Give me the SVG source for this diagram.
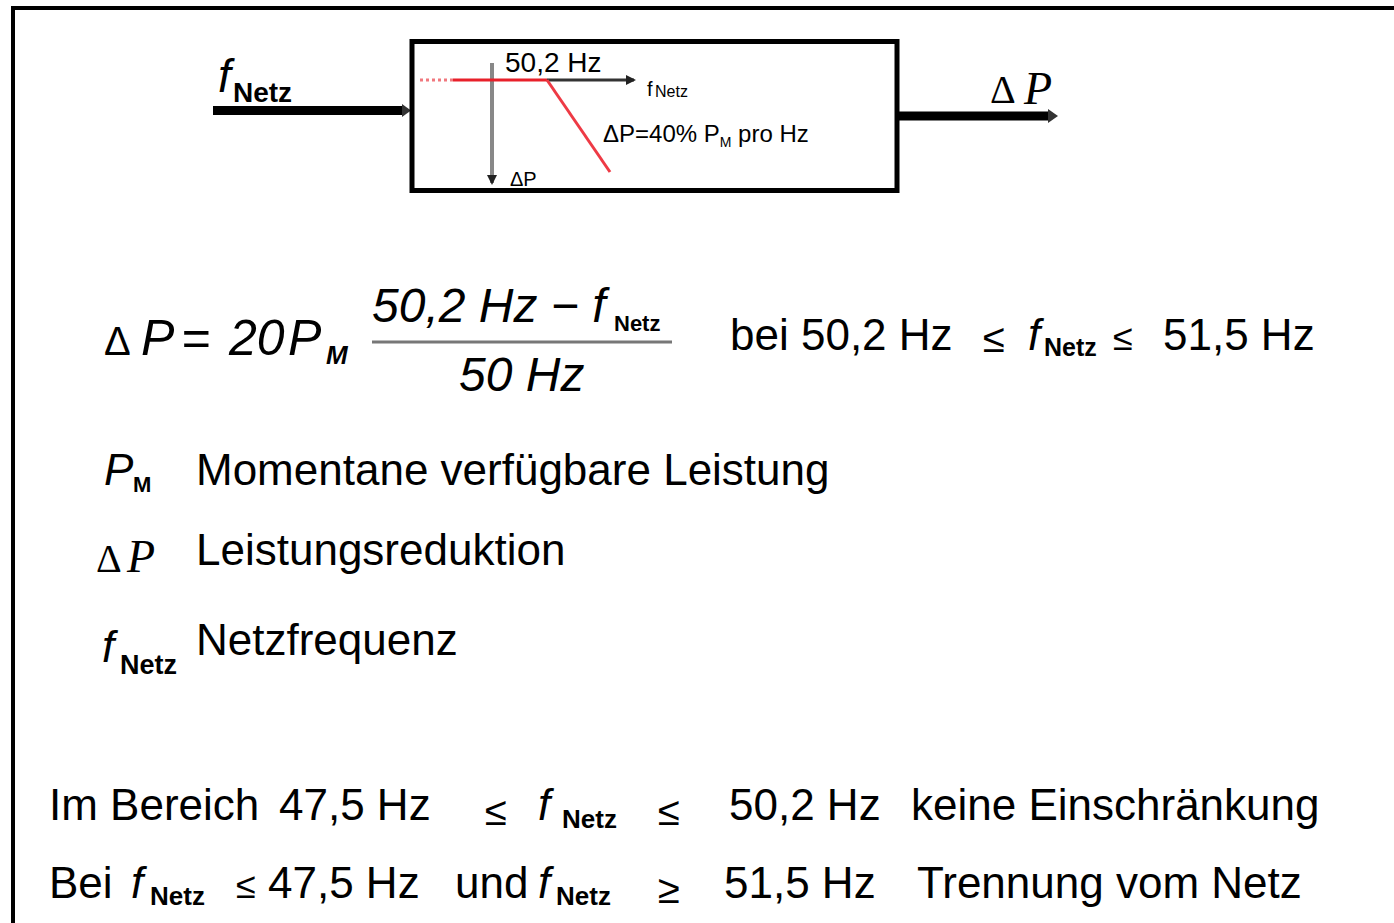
<svg xmlns="http://www.w3.org/2000/svg" width="1394" height="923" viewBox="0 0 1394 923">
<style>
.t{font-family:"Liberation Sans",Arial,sans-serif;fill:#000}
.i{font-style:italic}
.b{font-weight:bold}
.s{font-family:"Liberation Serif","Times New Roman",serif;fill:#000}
</style>
<defs>
<marker id="ahs" markerWidth="10" markerHeight="12" refX="8" refY="6" orient="auto" markerUnits="userSpaceOnUse"><path d="M0,0 L10,6 L0,12 z" fill="#000"/></marker>
<marker id="ahg" markerWidth="10" markerHeight="10" refX="8" refY="5" orient="auto" markerUnits="userSpaceOnUse"><path d="M0,0 L10,5 L0,10 z" fill="#222"/></marker>
</defs>
<rect width="1394" height="923" fill="#fff"/>
<g id="frame" fill="#000">
<rect x="11" y="6" width="4" height="917"/>
<rect x="11" y="6" width="1383" height="4"/>
</g>
<g id="connectors">
<line x1="213" y1="110.5" x2="404" y2="110.5" stroke="#000" stroke-width="9"/>
<path d="M402,104 L411,110.5 L402,117 z" fill="#333"/>
<line x1="899" y1="116" x2="1050" y2="116" stroke="#000" stroke-width="9"/>
<path d="M1048,109 L1058,116 L1048,123 z" fill="#333"/>
</g>
<g id="input-label">
<text class="t i" x="218" y="92" font-size="46">f</text>
<text class="t b" x="233" y="102" font-size="28">Netz</text>
</g>
<g id="output-label">
<text class="s" x="990" y="103" font-size="40">Δ</text>
<text class="s i" x="1024" y="104" font-size="46">P</text>
</g>
<g id="block">
<rect x="412" y="41.5" width="485" height="149" fill="#fff" stroke="#000" stroke-width="5"/>
<line x1="492" y1="63" x2="492" y2="183" stroke="#888" stroke-width="4" marker-end="url(#ahg)"/>
<line x1="420" y1="80" x2="453" y2="80" stroke="#e8202a" stroke-width="3" stroke-dasharray="3,3" opacity="0.6"/>
<line x1="453" y1="80" x2="547" y2="80" stroke="#e8202a" stroke-width="3"/>
<line x1="547" y1="80" x2="634" y2="80" stroke="#333" stroke-width="3" marker-end="url(#ahg)"/>
<line x1="547" y1="80" x2="610" y2="172" stroke="#ee3a45" stroke-width="3"/>
<text class="t" x="505" y="72" font-size="28">50,2 Hz</text>
<text class="t" x="647" y="96" font-size="20">f</text>
<text class="t" x="655" y="97" font-size="16">Netz</text>
<text class="t" x="510" y="186" font-size="20">ΔP</text>
<text class="t" x="603" y="142" font-size="24">ΔP=40% P<tspan font-size="14" dy="5">M</tspan><tspan dy="-5"> pro Hz</tspan></text>
</g>
<g id="formula">
<text class="t" x="104" y="355" font-size="40">Δ</text>
<text class="t i" x="141" y="355" font-size="50">P</text>
<text class="t i" x="181" y="355" font-size="50">=</text>
<text class="t i" x="229" y="355" font-size="50">20</text>
<text class="t i" x="288" y="355" font-size="50">P</text>
<text class="t i b" x="326" y="364" font-size="26">M</text>
<text class="t i" x="372" y="322" font-size="48">50,2 Hz − f</text>
<text class="t b" x="614" y="331" font-size="22">Netz</text>
<line x1="372" y1="342" x2="672" y2="342" stroke="#777" stroke-width="3"/>
<text class="t i" x="459" y="391" font-size="48">50 Hz</text>
<text class="t" x="730" y="350" font-size="44">bei 50,2 Hz</text>
<text class="t" x="983" y="352" font-size="40">≤</text>
<text class="t i" x="1028" y="350" font-size="44">f</text>
<text class="t b" x="1044" y="356" font-size="25">Netz</text>
<text class="t" x="1113" y="350" font-size="36">≤</text>
<text class="t" x="1163" y="350" font-size="44">51,5 Hz</text>
</g>
<g id="legend">
<text class="t i" x="104" y="485" font-size="44">P</text>
<text class="t b" x="133" y="492" font-size="22">M</text>
<text class="t" x="196" y="485" font-size="44">Momentane verfügbare Leistung</text>
<text class="s" x="96" y="572" font-size="40">Δ</text>
<text class="s i" x="127" y="572" font-size="46">P</text>
<text class="t" x="196" y="565" font-size="44">Leistungsreduktion</text>
<text class="t i" x="102" y="662" font-size="44">f</text>
<text class="t b" x="120" y="674" font-size="27">Netz</text>
<text class="t" x="196" y="655" font-size="44">Netzfrequenz</text>
</g>
<g id="conditions">
<text class="t" x="49" y="820" font-size="44">Im Bereich</text>
<text class="t" x="279" y="820" font-size="44">47,5 Hz</text>
<text class="t" x="485" y="825" font-size="40">≤</text>
<text class="t i" x="538" y="820" font-size="44">f</text>
<text class="t b" x="562" y="828" font-size="26">Netz</text>
<text class="t" x="658" y="825" font-size="40">≤</text>
<text class="t" x="729" y="820" font-size="44">50,2 Hz</text>
<text class="t" x="911" y="820" font-size="44">keine Einschränkung</text>
<text class="t" x="49" y="898" font-size="44">Bei</text>
<text class="t i" x="131" y="898" font-size="44">f</text>
<text class="t b" x="150" y="905" font-size="26">Netz</text>
<text class="t" x="236" y="898" font-size="36">≤</text>
<text class="t" x="268" y="898" font-size="44">47,5 Hz</text>
<text class="t" x="455" y="898" font-size="44">und</text>
<text class="t i" x="538" y="898" font-size="44">f</text>
<text class="t b" x="556" y="905" font-size="26">Netz</text>
<text class="t" x="658" y="903" font-size="40">≥</text>
<text class="t" x="724" y="898" font-size="44">51,5 Hz</text>
<text class="t" x="917" y="898" font-size="44">Trennung vom Netz</text>
</g>
</svg>
